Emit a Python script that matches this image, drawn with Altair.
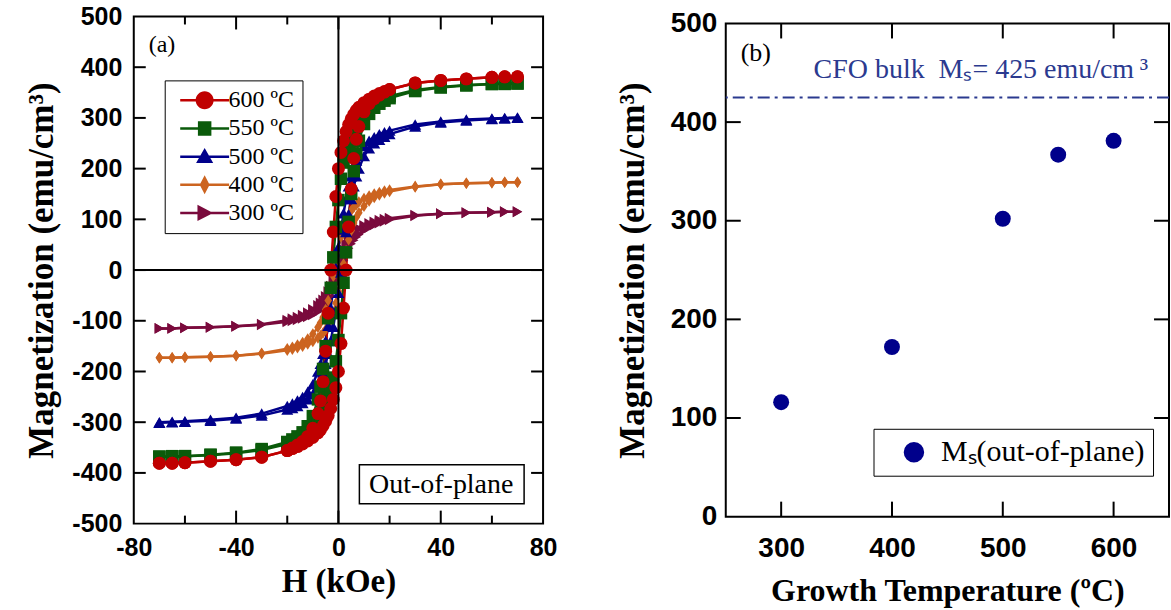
import altair as alt
import pandas as pd

# ---------------- panel (a): out-of-plane M-H loops ----------------
temps = ["600 ºC", "550 ºC", "500 ºC", "400 ºC", "300 ºC"]
loop_colors = ["#C00000", "#0A5A0A", "#00008B", "#CC6420", "#7A0A3C"]

# field sweep (kOe): descending branch and ascending branch
h_down = [70, 65, 60, 50, 40, 30, 20, 18, 16, 14, 12, 10, 8, 7, 6, 5, 4, 3, 2, 1, 0,
          -1, -2, -3, -4, -5, -6, -7, -8, -10, -12, -14, -16, -18, -20, -30, -40, -50, -60, -65, -70]
h_up = [-70, -65, -60, -50, -40, -30, -20, -18, -16, -14, -12, -10, -8, -7, -6, -5, -4, -3, -2, -1, 0,
        1, 2, 3, 4, 5, 6, 7, 8, 10, 12, 14, 16, 18, 20, 30, 40, 50, 60, 65, 70]

# magnetization (emu/cm^3) along each branch
m600_down = [381, 381, 380, 377, 374, 369, 356, 352, 348, 343, 337, 330, 321, 315, 307, 298, 287, 273, 255, 232, 200,
             145, 75, 0, -85, -160, -220, -258, -283, -312, -328, -338, -345, -351, -356, -369, -374, -377, -380, -381, -381]
m600_up = [-381, -381, -380, -377, -374, -369, -356, -352, -348, -343, -337, -330, -321, -315, -307, -298, -287, -273, -255, -232, -200,
           -145, -75, 0, 85, 160, 220, 258, 283, 312, 328, 338, 345, 351, 356, 369, 374, 377, 380, 381, 381]
m550_down = [368, 368, 367, 365, 361, 355, 343, 339, 334, 328, 320, 310, 297, 288, 278, 266, 252, 235, 212, 180, 138,
             85, 25, -35, -95, -150, -195, -230, -255, -288, -308, -320, -328, -334, -339, -353, -360, -364, -367, -367, -368]
m550_up = [-368, -368, -367, -365, -361, -355, -343, -339, -334, -328, -320, -310, -297, -288, -278, -266, -252, -235, -212, -180, -138,
           -85, -25, 35, 95, 150, 195, 230, 255, 288, 308, 320, 328, 334, 339, 353, 360, 364, 367, 367, 368]
m500_down = [301, 300, 299, 297, 293, 287, 275, 272, 268, 262, 255, 245, 228, 216, 202, 185, 165, 140, 112, 80, 45,
             5, -35, -75, -110, -140, -165, -185, -200, -225, -240, -250, -257, -263, -268, -283, -291, -295, -298, -299, -300]
m500_up = [-301, -300, -299, -297, -293, -287, -275, -272, -268, -262, -255, -245, -228, -216, -202, -185, -165, -140, -112, -80, -45,
           -5, 35, 75, 110, 140, 165, 185, 200, 225, 240, 250, 257, 263, 268, 283, 291, 295, 298, 299, 300]
m400_down = [173, 173, 172, 171, 169, 165, 158, 156, 153, 150, 146, 141, 134, 129, 124, 117, 108, 97, 83, 65, 42,
             15, -12, -38, -60, -78, -93, -104, -113, -126, -136, -143, -148, -152, -155, -164, -169, -171, -172, -173, -173]
m400_up = [-173, -173, -172, -171, -169, -165, -158, -156, -153, -150, -146, -141, -134, -129, -124, -117, -108, -97, -83, -65, -42,
           -15, 12, 38, 60, 78, 93, 104, 113, 126, 136, 143, 148, 152, 155, 164, 169, 171, 172, 173, 173]
m300_down = [115, 115, 114, 113, 111, 108, 102, 100, 98, 95, 92, 88, 82, 78, 73, 67, 60, 51, 40, 27, 12,
             -4, -19, -32, -43, -52, -59, -65, -70, -78, -84, -89, -93, -96, -99, -107, -111, -113, -114, -115, -115]
m300_up = [-115, -115, -114, -113, -111, -108, -102, -100, -98, -95, -92, -88, -82, -78, -73, -67, -60, -51, -40, -27, -12,
           4, 19, 32, 43, 52, 59, 65, 70, 78, 84, 89, 93, 96, 99, 107, 111, 113, 114, 115, 115]

a_x_labels = [-80, -40, 0, 40, 80]
a_x_minor = [-60, -20, 20, 60]
a_y_labels = [-500, -400, -300, -200, -100, 0, 100, 200, 300, 400, 500]

# ---------------- panel (b): saturation magnetization vs growth T ----------------
growth_temp = [300, 400, 500, 550, 600]
ms_out = [116, 172, 302, 367, 381]
bulk_ms = 425
ms_label = "Mₛ(out-of-plane)"

b_x_labels = [300, 400, 500, 600]
b_y_labels = [0, 100, 200, 300, 400, 500]

# ---------------- styling ----------------
TICK_FONT = "Liberation Sans"
SERIF = "Liberation Serif"
point_shapes = ["circle", "square", "triangle-up", "M0,-1L0.65,0L0,1L-0.65,0Z", "triangle-right"]
point_sizes = [169, 121, 150, 256, 150]
# legend glyphs: a thin filled bar (the line) merged with the marker, all drawn clockwise
BAR = "M-2.72,-0.14H2.72V0.14H-2.72Z"
legend_paths = [
    BAR + "M1,0A1,1,0,1,1,-1,0A1,1,0,1,1,1,0Z",
    BAR + "M-0.75,-0.8H0.75V0.8H-0.75Z",
    BAR + "M0,-0.95L0.95,0.7H-0.95Z",
    BAR + "M0,-1.05L0.55,0L0,1.05L-0.55,0Z",
    BAR + "M-0.8,-0.9L0.95,0L-0.8,0.9Z",
]

WA, HA = 410, 508
WB, HB = 444, 494

# ---------------- build panel (a) ----------------
loops = [
    ("300 ºC", m300_down, m300_up),
    ("400 ºC", m400_down, m400_up),
    ("500 ºC", m500_down, m500_up),
    ("550 ºC", m550_down, m550_up),
    ("600 ºC", m600_down, m600_up),
]
rows = []
for temp, down, up in loops:
    for i, (h, m) in enumerate(zip(h_down, down)):
        rows.append({"temp": temp, "branch": "down", "i": i, "H": h, "M": m})
    for i, (h, m) in enumerate(zip(h_up, up)):
        rows.append({"temp": temp, "branch": "up", "i": i, "H": h, "M": m})
loop_df = pd.DataFrame(rows)

xa = alt.Scale(domain=[a_x_labels[0], a_x_labels[-1]], nice=False, zero=False)
ya = alt.Scale(domain=[a_y_labels[0], a_y_labels[-1]], nice=False, zero=False)
num_expr = "'' + datum.value"

ax_ha = alt.Axis(values=a_x_labels, title="H (kOe)", labelFontSize=25, titleFontSize=33,
                 labelPadding=12, titlePadding=5, labelExpr=num_expr, labelFlush=False)
ax_ma = alt.Axis(values=a_y_labels, title="Magnetization (emu/cm³)", labelFontSize=25, titleFontSize=35,
                 labelPadding=12, titlePadding=12, labelExpr=num_expr, labelFlush=False)


def xa_enc(field):
    return alt.X(field, scale=xa, axis=ax_ha)


def ya_enc(field):
    return alt.Y(field, scale=ya, axis=ax_ma)


color_a = alt.Color("temp:N", scale=alt.Scale(domain=temps, range=loop_colors), legend=None)

base_a = alt.Chart(loop_df)
zero_df = pd.DataFrame({"z": [0]})
zero_v = alt.Chart(zero_df).mark_rule(color="black", strokeWidth=2).encode(x=xa_enc("z:Q"))
zero_h = alt.Chart(zero_df).mark_rule(color="black", strokeWidth=2).encode(y=ya_enc("z:Q"))

lines_a = base_a.mark_line(strokeWidth=2.5).encode(
    x=xa_enc("H:Q"), y=ya_enc("M:Q"), color=color_a, detail="branch:N", order="i:Q")
points_a = base_a.mark_point(filled=True, opacity=1, strokeWidth=0).encode(
    x=xa_enc("H:Q"), y=ya_enc("M:Q"), color=color_a,
    shape=alt.Shape("temp:N", scale=alt.Scale(domain=temps, range=point_shapes), legend=None),
    size=alt.Size("temp:O", scale=alt.Scale(domain=temps, range=point_sizes), legend=None))

legend_a = alt.Legend(
    orient="none", legendX=31, legendY=64, title=None, direction="vertical", columns=1,
    padding=8, strokeColor="black", fillColor="white",
    symbolSize=324, symbolStrokeWidth=0, symbolOpacity=1, symbolOffset=20,
    labelOffset=12, rowPadding=4.2, labelFont=SERIF, labelFontSize=24,
    labelColor="black", labelLimit=300)
legend_layer_a = base_a.mark_point(filled=True, opacity=0).encode(
    x=xa_enc("H:Q"), y=ya_enc("M:Q"),
    shape=alt.Shape("temp:N", scale=alt.Scale(domain=temps, range=legend_paths), legend=legend_a),
    color=alt.Color("temp:N", scale=alt.Scale(domain=temps, range=loop_colors), legend=legend_a))


def inner_ticks(values, xenc, yenc, w, h, length, sides):
    """Inward-pointing tick marks drawn along the frame."""
    df = pd.DataFrame({"v": values})
    layers = []
    for side in sides:
        mk = alt.Chart(df).mark_rule(color="black", strokeWidth=2)
        if side in ("left", "right"):
            x0 = 0 if side == "left" else w
            x1 = length if side == "left" else w - length
            layers.append(mk.encode(y=yenc("v:Q"), x=alt.value(x0), x2=alt.value(x1)))
        else:
            y0 = h if side == "bottom" else 0
            y1 = h - length if side == "bottom" else length
            layers.append(mk.encode(x=xenc("v:Q"), y=alt.value(y0), y2=alt.value(y1)))
    return layers


ticks_a = (
    inner_ticks([v for v in a_y_labels if a_y_labels[0] < v < a_y_labels[-1]], xa_enc, ya_enc, WA, HA, 12, ["left", "right"])
    + inner_ticks([v for v in a_x_labels if a_x_labels[0] < v < a_x_labels[-1]], xa_enc, ya_enc, WA, HA, 13, ["top", "bottom"])
    + inner_ticks(a_x_minor, xa_enc, ya_enc, WA, HA, 8, ["top", "bottom"])
)

one = pd.DataFrame({"t": [""]})
tag_a = alt.Chart(one).mark_text(text="(a)", font=SERIF, fontSize=24, align="left",
                                 baseline="alphabetic", color="black").encode(
    x=alt.value(15), y=alt.value(36))
box_a = alt.Chart(one).mark_rect(fill="white", stroke="black", strokeWidth=1.5).encode(
    x=alt.value(226), x2=alt.value(391), y=alt.value(449), y2=alt.value(488))
box_text_a = alt.Chart(one).mark_text(text="Out-of-plane", font=SERIF, fontSize=28, align="center",
                                      baseline="alphabetic", color="black").encode(
    x=alt.value(308), y=alt.value(477))

panel_a = alt.layer(
    lines_a, points_a, legend_layer_a, zero_v, zero_h, *ticks_a, box_a, box_text_a, tag_a
).resolve_scale(shape="independent", color="independent").properties(width=WA, height=HA)

# ---------------- build panel (b) ----------------
xb = alt.Scale(domain=[250, 650], nice=False, zero=False)
yb = alt.Scale(domain=[b_y_labels[0], b_y_labels[-1]], nice=False, zero=False)

ax_tb = alt.Axis(values=b_x_labels, title="Growth Temperature (ºC)", labelFontSize=28, titleFontSize=32,
                 labelPadding=18, titlePadding=13, labelExpr=num_expr, labelFlush=False)
ax_mb = alt.Axis(values=b_y_labels, title="Magnetization (emu/cm³)", labelFontSize=28, titleFontSize=35,
                 labelPadding=9, titlePadding=20, labelExpr=num_expr, labelFlush=False)


def xb_enc(field):
    return alt.X(field, scale=xb, axis=ax_tb)


def yb_enc(field):
    return alt.Y(field, scale=yb, axis=ax_mb)


ms_df = pd.DataFrame({"T": growth_temp, "Ms": ms_out, "series": [ms_label] * len(growth_temp)})

legend_b = alt.Legend(
    orient="none", legendX=148, legendY=406, title=None, padding=8.5,
    strokeColor="black", fillColor="white", symbolType="circle", symbolSize=420,
    symbolOpacity=1, symbolStrokeWidth=0, symbolOffset=17, labelOffset=12,
    labelFont=SERIF, labelFontSize=30, labelColor="black", labelLimit=400)

points_b = alt.Chart(ms_df).mark_circle(size=256, opacity=1).encode(
    x=xb_enc("T:Q"), y=yb_enc("Ms:Q"),
    color=alt.Color("series:N", scale=alt.Scale(domain=[ms_label], range=["#00008B"]), legend=legend_b))

bulk_df = pd.DataFrame({"ms": [bulk_ms]})
bulk_line = alt.Chart(bulk_df).mark_rule(color="#2B3A8F", strokeWidth=2, strokeDash=[12, 5, 3, 5]).encode(
    y=yb_enc("ms:Q"))
bulk_text = alt.Chart(bulk_df).mark_text(
    text=f"CFO bulk \u00a0Mₛ= {bulk_ms} emu/cm\u2009³", font=SERIF, fontSize=28, align="left",
    baseline="alphabetic", color="#2B3A8F").encode(x=alt.value(88), y=alt.value(55))
tag_b = alt.Chart(one).mark_text(text="(b)", font=SERIF, fontSize=26, align="left",
                                 baseline="alphabetic", color="black").encode(
    x=alt.value(15), y=alt.value(38))

ticks_b = (
    inner_ticks([v for v in b_y_labels if b_y_labels[0] < v < b_y_labels[-1]], xb_enc, yb_enc, WB, HB, 15, ["left", "right"])
    + inner_ticks(b_x_labels, xb_enc, yb_enc, WB, HB, 15, ["top", "bottom"])
)

panel_b = alt.layer(
    points_b, bulk_line, *ticks_b, bulk_text, tag_b
).properties(width=WB, height=HB)

chart = alt.hconcat(panel_a, panel_b, spacing=183, bounds="flush", center=True).resolve_scale(
    color="independent", shape="independent", size="independent"
).resolve_legend(color="independent", shape="independent").properties(
    padding={"left": 23, "top": 3, "right": 0, "bottom": 0}
).configure_view(stroke="black", strokeWidth=2).configure_axis(
    domain=False, ticks=False, tickSize=0, grid=False,
    labelFont=TICK_FONT, labelFontWeight="bold", labelColor="black",
    titleFont=SERIF, titleFontWeight="bold", titleColor="black")

chart.save("out.html", embed_options={"renderer": "svg", "actions": False})
